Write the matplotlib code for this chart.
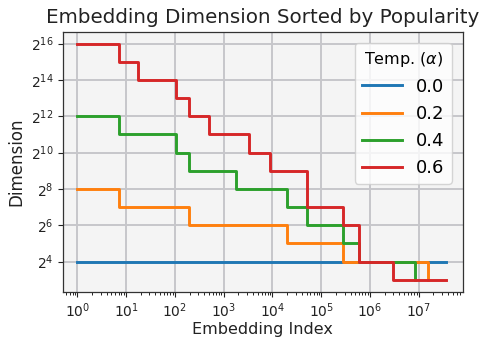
import numpy as np
import matplotlib
matplotlib.use("Agg")
import matplotlib.pyplot as plt

# step boundaries (embedding index) and log2 of the dimension
temps = ["0.0", "0.2", "0.4", "0.6"]

x_00 = [1, 3.57e7]
d_00 = [4, 4]

x_02 = [1, 7, 199, 19500, 282000, 1.55e7]
d_02 = [8, 7, 6, 5, 4, 3]

x_04 = [1, 7, 105, 199, 1760, 19500, 50000, 282000, 590000, 8.3e6]
d_04 = [12, 11, 10, 9, 8, 7, 6, 5, 4, 3]

x_06 = [1, 7, 17.8, 105, 199, 500, 3300, 9000, 50000, 282000, 590000, 2.9e6, 3.57e7]
d_06 = [16, 15, 14, 13, 12, 11, 10, 9, 7, 6, 4, 3, 3]

colors = ["#1f77b4", "#ff7f0e", "#2ca02c", "#d62728"]

fig = plt.figure(figsize=(4.82, 3.41), dpi=100)
ax = fig.add_axes([0.131, 0.145, 0.829, 0.762])
ax.set_facecolor("#f4f4f4")

for xs, ds, c, t in zip([x_00, x_02, x_04, x_06], [d_00, d_02, d_04, d_06], colors, temps):
    ax.step(xs, 2.0 ** np.array(ds), where="post", color=c, lw=2.1, label=t)

ax.set_xscale("log")
ax.set_yscale("log", base=2)
ax.set_xlim(10 ** -0.29, 10 ** 7.9)
ax.set_ylim(2 ** 2.35, 2 ** 16.65)

yt = list(range(4, 17, 2))
ax.set_yticks([2 ** k for k in yt])
ax.set_yticklabels(["$2^{%d}$" % k for k in yt])
ax.yaxis.set_minor_locator(matplotlib.ticker.NullLocator())
ax.set_xticks([10 ** k for k in range(8)])

ax.grid(True, which="major", color="#c6c6ca", lw=1.4)
ax.set_axisbelow(True)
for s in ax.spines.values():
    s.set_color("#333333")
    s.set_linewidth(0.9)
ax.tick_params(labelsize=10, colors="#222222")

ax.set_title("Embedding Dimension Sorted by Popularity", fontsize=14.3, color="#222222")
ax.set_xlabel("Embedding Index", fontsize=11.5, color="#222222", labelpad=1.5)
ax.set_ylabel("Dimension", fontsize=12, color="#222222")

leg = ax.legend(title="Temp. ($\\alpha$)", loc="upper right", fontsize=13,
                title_fontsize=11.5, handlelength=2.2, borderaxespad=0.6)

fig.savefig("out.png", dpi=100)
